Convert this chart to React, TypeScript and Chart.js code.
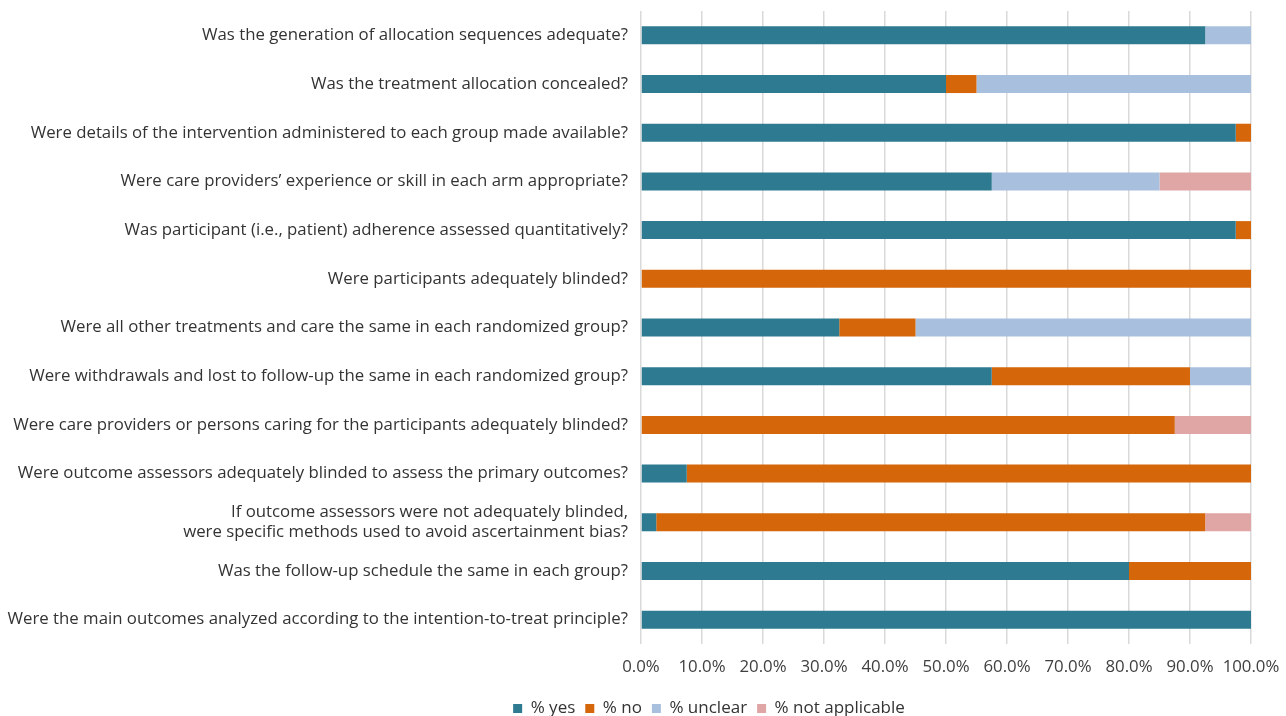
import React, { useEffect, useRef } from "react";
import { Chart, registerables } from "chart.js";

Chart.register(...registerables);

const categories: (string | string[])[] = [
  "Was the generation of allocation sequences adequate?",
  "Was the treatment allocation concealed?",
  "Were details of the intervention administered to each group made available?",
  "Were care providers\u2019 experience or skill in each arm appropriate?",
  "Was participant (i.e., patient) adherence assessed quantitatively?",
  "Were participants adequately blinded?",
  "Were all other treatments and care the same in each randomized group?",
  "Were withdrawals and lost to follow-up the same in each randomized group?",
  "Were care providers or persons caring for the participants adequately blinded?",
  "Were outcome assessors adequately blinded to assess the primary outcomes?",
  ["If outcome assessors were not adequately blinded,", "were specific methods used to avoid ascertainment bias?"],
  "Was the follow-up schedule the same in each group?",
  "Were the main outcomes analyzed according to the intention-to-treat principle?",
];

const yesValues = [92.5, 50, 97.5, 57.5, 97.5, 0, 32.5, 57.5, 0, 7.5, 2.5, 80, 100];
const noValues = [0, 5, 2.5, 0, 2.5, 100, 12.5, 32.5, 87.5, 92.5, 90, 20, 0];
const unclearValues = [7.5, 45, 0, 27.5, 0, 0, 55, 10, 0, 0, 0, 0, 0];
const naValues = [0, 0, 0, 15, 0, 0, 0, 0, 12.5, 0, 7.5, 0, 0];

const seriesNames = ["% yes", "% no", "% unclear", "% not applicable"];
const seriesColors = ["#2E7B91", "#D5660A", "#A8C0DE", "#E0A6A6"];

const FONT = "'Open Sans', 'Noto Sans', sans-serif";

const legendShift = {
  id: "legendShift",
  afterLayout(chart: any) {
    const lg = chart.legend;
    if (!lg) return;
    const dx = 709 - (lg.left + lg.right) / 2;
    const dy = 690 - lg.top;
    lg.left += dx;
    lg.right += dx;
    lg.top += dy;
    lg.bottom += dy;
  },
};

export default function App() {
  const ref = useRef<HTMLCanvasElement | null>(null);

  useEffect(() => {
    document.body.style.margin = "0";
    if (!ref.current) return;
    const data = [yesValues, noValues, unclearValues, naValues];
    const chart = new Chart(ref.current, {
      type: "bar",
      data: {
        labels: categories as any,
        datasets: data.map((d, i) => ({
          label: seriesNames[i],
          data: d,
          backgroundColor: seriesColors[i],
          borderWidth: 0,
          barPercentage: 0.74,
          categoryPercentage: 0.5,
        })),
      },
      plugins: [legendShift],
      options: {
        indexAxis: "y",
        animation: false,
        responsive: false,
        maintainAspectRatio: false,
        layout: { padding: { top: 11, right: 35, left: 0, bottom: 0 } },
        plugins: {
          tooltip: { enabled: false },
          legend: {
            position: "bottom",
            labels: {
              boxWidth: 9,
              boxHeight: 9,
              padding: 10,
              color: "#333333",
              font: { family: FONT, size: 17 },
            },
          },
        },
        scales: {
          x: {
            stacked: true,
            min: 0,
            max: 100,
            border: { display: false },
            grid: { color: "#D9D9D9", lineWidth: 1.5, drawTicks: false },
            ticks: {
              stepSize: 10,
              padding: 13,
              maxRotation: 0,
              minRotation: 0,
              autoSkip: false,
              color: "#404040",
              font: { family: FONT, size: 16.8 },
              callback: (v: any) => Number(v).toFixed(1) + "%",
            },
            afterFit: (scale: any) => {
              scale.height = 35;
              scale.paddingLeft = 0;
              scale.paddingRight = 0;
            },
          },
          y: {
            stacked: true,
            border: { display: false },
            grid: { display: false, drawTicks: false },
            ticks: {
              padding: 13,
              autoSkip: false,
              color: "#333333",
              font: { family: FONT, size: 16.8, lineHeight: 1.15 },
            },
            afterFit: (scale: any) => {
              scale.width = 641;
              scale.paddingTop = 0;
              scale.paddingBottom = 0;
            },
          },
        },
      },
    });
    return () => chart.destroy();
  }, []);

  return (
    <div style={{ width: 1286, height: 716 }}>
      <canvas ref={ref} width={1286} height={716} />
    </div>
  );
}
